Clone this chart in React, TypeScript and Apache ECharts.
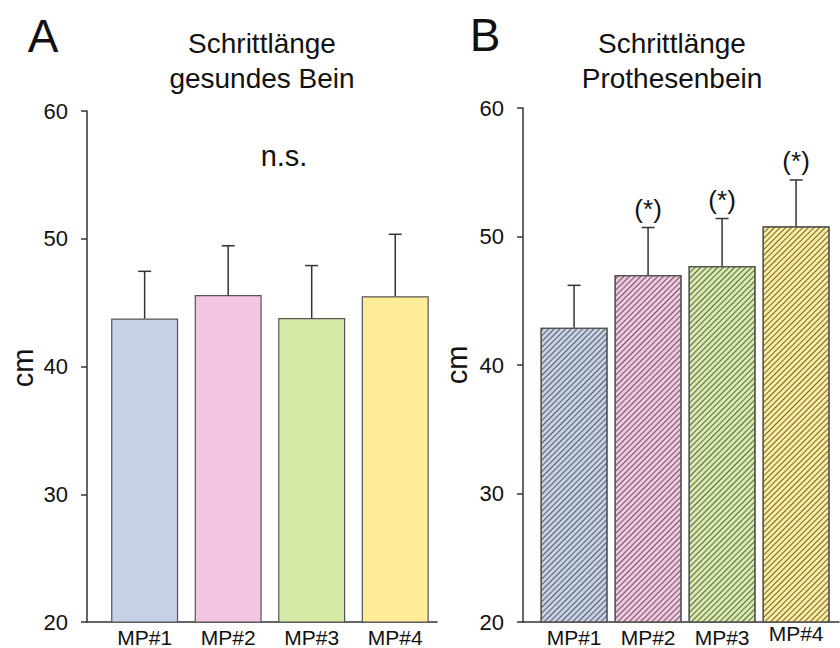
import React, { useEffect, useRef } from "react";
import * as echarts from "echarts";

const categories = ["MP#1", "MP#2", "MP#3", "MP#4"];
const colors = ["#C6D1E5", "#F3C5E0", "#D6EBA8", "#FFEC97"];
const healthyMean = [43.75, 45.6, 43.8, 45.5];
const healthyUpper = [47.45, 49.45, 47.9, 50.35];
const prosthMean = [42.9, 47.0, 47.7, 50.8];
const prosthUpper = [46.2, 50.7, 51.4, 54.4];
const prosthMarks = ["", "(*)", "(*)", "(*)"];
const yTicks = { min: 20, max: 60, interval: 10 };

const FONT = "Liberation Sans, Arial, sans-serif";

export default function App() {
  const ref = useRef<HTMLDivElement>(null);
  useEffect(() => {
    if (!ref.current) return;
    const chart = echarts.init(ref.current, undefined, { renderer: "svg" });

    const hatch = {
      symbol: "rect",
      symbolSize: 1,
      dashArrayX: [1, 0],
      dashArrayY: [1, 2.4],
      rotation: -Math.PI / 4,
      color: "rgba(50,50,50,0.75)",
    };

    const barData = (means: number[], hatched: boolean) =>
      means.map((v, i) => ({
        value: [i, v],
        itemStyle: {
          color: colors[i],
          borderColor: "#555",
          borderWidth: 1.2,
          ...(hatched ? { decal: hatch } : {}),
        },
      }));

    const errRender = (marks: string[] | null) => (params: any, api: any) => {
      const x = api.value(0);
      const m = api.value(1);
      const u = api.value(2);
      const p0 = api.coord([x, m]);
      const p1 = api.coord([x, u]);
      const style = { stroke: "#333", lineWidth: 1.5 };
      const children: any[] = [
        { type: "line", shape: { x1: p0[0], y1: p0[1], x2: p1[0], y2: p1[1] }, style },
        { type: "line", shape: { x1: p1[0] - 6.5, y1: p1[1], x2: p1[0] + 6.5, y2: p1[1] }, style },
      ];
      const mk = marks ? marks[params.dataIndex] : "";
      if (mk) {
        children.push({
          type: "text",
          x: p1[0],
          y: p1[1] - 19,
          style: {
            text: mk,
            fontSize: 26,
            fontFamily: FONT,
            fill: "#111",
            align: "center",
            verticalAlign: "middle",
          },
        });
      }
      return { type: "group", children };
    };

    const yAxisCommon = {
      type: "value",
      min: yTicks.min,
      max: yTicks.max,
      interval: yTicks.interval,
      axisLine: { show: true, onZero: false, lineStyle: { color: "#333", width: 1.5 } },
      axisTick: { show: true, length: 6, lineStyle: { color: "#333", width: 1.5 } },
      axisLabel: { fontSize: 22, color: "#111", fontFamily: FONT, margin: 19 },
      splitLine: { show: false },
    };

    const xAxisCommon = (max: number, gridIndex: number, raiseLast: boolean) => ({
      type: "value",
      gridIndex,
      min: -0.69,
      max,
      axisLine: { show: true, onZero: false, lineStyle: { color: "#333", width: 1.5 } },
      axisTick: { show: false },
      splitLine: { show: false },
      axisLabel: {
        customValues: [0, 1, 2, 3],
        formatter: (v: number) => {
          const i = Math.round(v);
          const name = categories[i] ?? "";
          return raiseLast && i === 3 ? `{up|${name}}` : name;
        },
        fontSize: 21,
        color: "#111",
        fontFamily: FONT,
        margin: 5,
        rich: {
          up: { fontSize: 21, fontFamily: FONT, color: "#111", lineHeight: 12 },
        },
      },
    });

    chart.setOption({
      animation: false,
      textStyle: { fontFamily: FONT },
      grid: [
        { left: 87, top: 111, width: 350, height: 513 },
        { left: 523, top: 108, width: 316, height: 514 },
      ],
      xAxis: [xAxisCommon(3.5, 0, false), xAxisCommon(3.58, 1, true)],
      yAxis: [
        { ...yAxisCommon, gridIndex: 0 },
        { ...yAxisCommon, gridIndex: 1 },
      ],
      series: [
        {
          type: "bar",
          xAxisIndex: 0,
          yAxisIndex: 0,
          barWidth: 67,
          data: barData(healthyMean, false),
        },
        {
          type: "custom",
          xAxisIndex: 0,
          yAxisIndex: 0,
          renderItem: errRender(null),
          data: healthyMean.map((m, i) => [i, m, healthyUpper[i]]),
          z: 5,
        },
        {
          type: "bar",
          xAxisIndex: 1,
          yAxisIndex: 1,
          barWidth: 67,
          data: barData(prosthMean, true),
        },
        {
          type: "custom",
          xAxisIndex: 1,
          yAxisIndex: 1,
          renderItem: errRender(prosthMarks),
          data: prosthMean.map((m, i) => [i, m, prosthUpper[i]]),
          z: 5,
        },
      ],
      graphic: [
        {
          type: "text",
          x: 43,
          y: 36,
          style: { text: "A", fontSize: 46, fontFamily: FONT, fill: "#111", align: "center", verticalAlign: "middle" },
        },
        {
          type: "text",
          x: 485,
          y: 35,
          style: { text: "B", fontSize: 46, fontFamily: FONT, fill: "#111", align: "center", verticalAlign: "middle" },
        },
        {
          type: "text",
          x: 262,
          y: 61,
          style: {
            text: "Schrittlänge\ngesundes Bein",
            fontSize: 28,
            lineHeight: 35,
            fontFamily: FONT,
            fill: "#111",
            align: "center",
            verticalAlign: "middle",
          },
        },
        {
          type: "text",
          x: 672,
          y: 61,
          style: {
            text: "Schrittlänge\nProthesenbein",
            fontSize: 28,
            lineHeight: 35,
            fontFamily: FONT,
            fill: "#111",
            align: "center",
            verticalAlign: "middle",
          },
        },
        {
          type: "text",
          x: 284,
          y: 156,
          style: { text: "n.s.", fontSize: 29, fontFamily: FONT, fill: "#111", align: "center", verticalAlign: "middle" },
        },
        {
          type: "text",
          x: 23,
          y: 368,
          rotation: Math.PI / 2,
          style: { text: "cm", fontSize: 29, fontFamily: FONT, fill: "#111", align: "center", verticalAlign: "middle" },
        },
        {
          type: "text",
          x: 457,
          y: 365,
          rotation: Math.PI / 2,
          style: { text: "cm", fontSize: 29, fontFamily: FONT, fill: "#111", align: "center", verticalAlign: "middle" },
        },
      ],
    });
    return () => chart.dispose();
  }, []);
  return (
    <div
      ref={ref}
      style={{ position: "fixed", left: 0, top: 0, width: 840, height: 648, background: "#fff" }}
    />
  );
}
